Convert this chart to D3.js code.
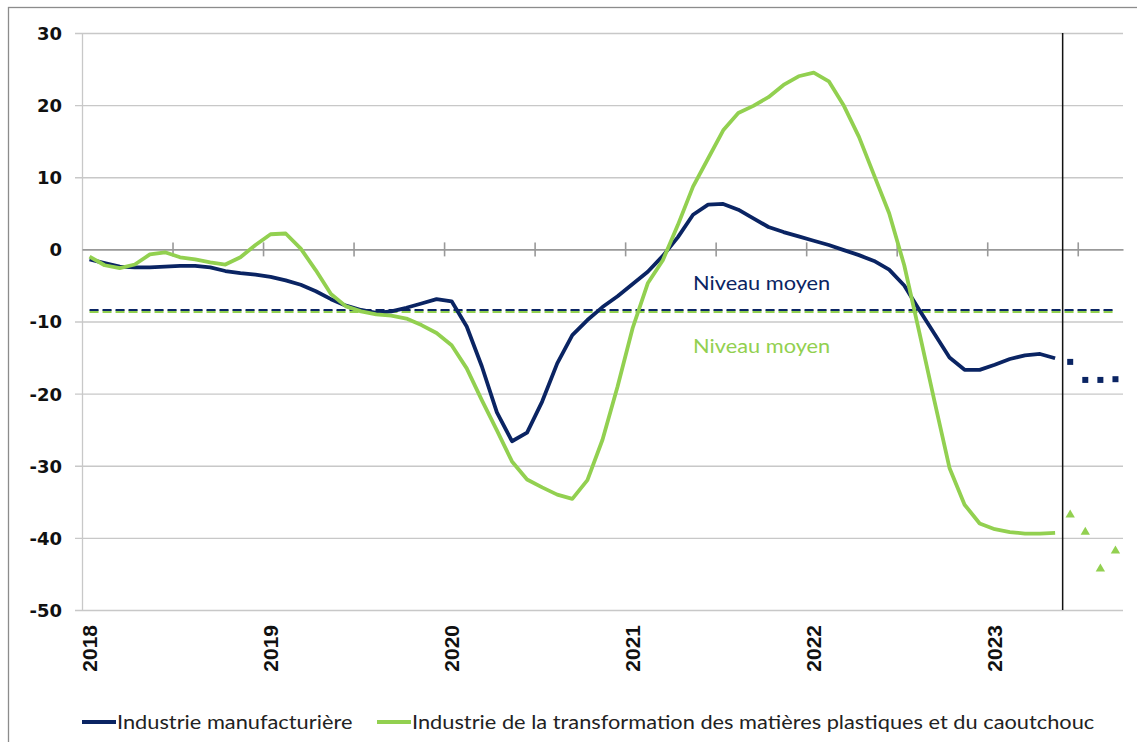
<!DOCTYPE html>
<html>
<head>
<meta charset="utf-8">
<script src="https://cdn.jsdelivr.net/npm/d3@7"></script>
<style>
  body { margin: 0; background: #fff; }
  svg { display: block; }
</style>
</head>
<body>
<svg id="chart" width="1137" height="742"></svg>
<script>
// categories: one per month, Jan 2018 -> Sep 2023
const years = [ 2018, 2019, 2020, 2021, 2022, 2023 ];
const lastMonth2023 = 9;
const months = [];
years.forEach( y => {
  const n = y === 2023 ? lastMonth2023 : 12;
  for ( let m = 1; m <= n; m++ ) months.push( `${y}-${String( m ).padStart( 2, "0" )}` );
} );

// observed series, Jan 2018 -> May 2023
const manufacturiere = [
  -1.4, -1.9, -2.4, -2.5, -2.5, -2.4, -2.3, -2.3, -2.5, -3.0, -3.3, -3.5,
  -3.8, -4.3, -4.9, -5.8, -6.9, -7.8, -8.4, -8.8, -8.6, -8.1, -7.5, -6.9,
  -7.2, -10.7, -16.2, -22.6, -26.6, -25.4, -21.1, -15.8, -11.9, -9.8, -8.0, -6.5,
  -4.8, -3.1, -0.9, 1.7, 4.8, 6.2, 6.3, 5.5, 4.3, 3.1, 2.4, 1.8,
  1.2, 0.6, -0.1, -0.8, -1.6, -2.8, -5.0, -8.4, -11.7, -15.0, -16.7, -16.7,
  -16.0, -15.2, -14.7, -14.5, -15.1,
];
const plastiques = [
  -1.0, -2.2, -2.6, -2.1, -0.7, -0.4, -1.1, -1.4, -1.8, -2.1, -1.1, 0.6,
  2.1, 2.2, 0.1, -2.9, -6.2, -7.9, -8.6, -9.0, -9.2, -9.6, -10.5, -11.6,
  -13.3, -16.5, -20.9, -25.1, -29.4, -31.9, -33.0, -34.0, -34.6, -32.0, -26.4, -19.0,
  -10.9, -4.7, -1.5, 3.4, 8.7, 12.6, 16.5, 18.9, 19.9, 21.1, 22.8, 24.0,
  24.5, 23.3, 19.9, 15.6, 10.3, 5.0, -2.2, -11.5, -21.0, -30.3, -35.4, -38.0,
  -38.8, -39.2, -39.4, -39.4, -39.3,
];

// forecasts, Jun 2023 -> Sep 2023
const manufPrevision = [ -15.6, -18.1, -18.1, -18.0 ];
const plastPrevision = [ -36.8, -39.2, -44.3, -41.8 ];

// long-run averages
const moyenneManuf = -8.4;
const moyennePlast = -8.6;

const yTicks = [ 30, 20, 10, 0, -10, -20, -30, -40, -50 ];
const seriesNames = [ "Industrie manufacturière", "Industrie de la transformation des matières plastiques et du caoutchouc" ];

const BLUE = "#0a2463";
const GREEN = "#92d050";
const TEXT_STRETCH = 1.09; // the source text is drawn a little wider than Lato

const svg = d3.select( "#chart" );
const MARGINS = { top: 33, right: 14, bottom: 132, left: 82 };
const WIDTH = 1137;
const HEIGHT = 742;

const x = d3.scaleBand()
  .domain( months )
  .range( [ MARGINS.left, WIDTH - MARGINS.right ] )
  .padding( 0 );
const bw = x.bandwidth();
const cx = m => x( m ) + bw / 2;

const xIdx = d3.scaleLinear()
  .domain( [ 0, months.length ] )
  .range( [ MARGINS.left, WIDTH - MARGINS.right ] );

const y = d3.scaleLinear()
  .domain( [ -50, 30 ] )
  .range( [ HEIGHT - MARGINS.bottom, MARGINS.top ] );

// outer frame
svg.append( "rect" )
  .attr( "x", 8.5 ).attr( "y", 7.5 )
  .attr( "width", 1200 ).attr( "height", 800 )
  .attr( "fill", "none" )
  .attr( "stroke", "#8c8c8c" )
  .attr( "stroke-width", 1.3 );

// y axis + grid
const yAxis = d3.axisLeft( y )
  .tickValues( yTicks )
  .tickSizeOuter( 0 )
  .tickFormat( d => String( d ) );

const yg = svg.append( "g" )
  .attr( "transform", `translate(${MARGINS.left},0)` )
  .call( yAxis );
yg.select( ".domain" ).attr( "stroke", "#c8c8c8" ).attr( "stroke-width", 1.3 );
yg.selectAll( ".tick line" )
  .attr( "x1", -7 )
  .attr( "x2", WIDTH - MARGINS.right - MARGINS.left )
  .attr( "stroke", "#c8c8c8" )
  .attr( "stroke-width", 1.3 );
yg.selectAll( ".tick text" )
  .attr( "x", -20 )
  .attr( "dy", "0.36em" )
  .style( "font-family", "'DejaVu Sans', sans-serif" )
  .style( "font-weight", "bold" )
  .style( "font-size", "18px" )
  .attr( "fill", "#111" );
yg.selectAll( ".tick" ).filter( d => d === 0 ).select( "line" ).attr( "stroke", "none" );

// category axis on the zero line, tick marks every six months
const sixMonths = d3.range( 6, months.length, 6 );
const xAxis = d3.axisBottom( xIdx )
  .tickValues( sixMonths )
  .tickSize( 7 )
  .tickSizeOuter( 0 )
  .tickFormat( "" );
const xg = svg.append( "g" )
  .attr( "transform", `translate(0,${y( 0 )})` )
  .call( xAxis );
xg.select( ".domain" ).attr( "stroke", "#999" ).attr( "stroke-width", 1.6 );
xg.selectAll( ".tick line" ).attr( "y1", -7 ).attr( "stroke", "#999" ).attr( "stroke-width", 1.6 );

// year labels under the plot
const januaries = months.filter( m => m.endsWith( "-01" ) );
const labelAxis = d3.axisBottom( x )
  .tickValues( januaries )
  .tickSize( 0 )
  .tickFormat( m => m.slice( 0, 4 ) );
const lg = svg.append( "g" )
  .attr( "transform", `translate(0,${y( -50 )})` )
  .call( labelAxis );
lg.select( ".domain" ).remove();
lg.selectAll( ".tick text" )
  .attr( "transform", "translate(0,15) rotate(-90)" )
  .attr( "x", 0 ).attr( "y", 0 )
  .attr( "dy", "0.36em" )
  .attr( "text-anchor", "end" )
  .style( "font-family", "'Liberation Sans', Arial, sans-serif" )
  .style( "font-weight", "bold" )
  .style( "font-size", "21px" )
  .attr( "fill", "#111" );

// mean levels
const meanLine = v => d3.line()( [ [ cx( months[0] ), y( v ) ], [ cx( months[months.length - 1] ), y( v ) ] ] );
svg.append( "path" )
  .attr( "d", meanLine( moyennePlast ) )
  .attr( "stroke", GREEN )
  .attr( "stroke-width", 3 )
  .attr( "stroke-dasharray", "9,4" )
  .attr( "fill", "none" );
svg.append( "path" )
  .attr( "d", meanLine( moyenneManuf ) )
  .attr( "stroke", BLUE )
  .attr( "stroke-width", 2 )
  .attr( "stroke-dasharray", "9,4" )
  .attr( "fill", "none" );

// series lines
const lineFunc = d3.line()
  .x( ( d, i ) => cx( months[i] ) )
  .y( d => y( d ) );

svg.append( "path" )
  .attr( "d", lineFunc( manufacturiere ) )
  .attr( "stroke", BLUE )
  .attr( "stroke-width", 3.8 )
  .attr( "stroke-linejoin", "round" )
  .attr( "fill", "none" );

svg.append( "path" )
  .attr( "d", lineFunc( plastiques ) )
  .attr( "stroke", GREEN )
  .attr( "stroke-width", 3.8 )
  .attr( "stroke-linejoin", "round" )
  .attr( "fill", "none" );

// forecast markers
const firstForecast = manufacturiere.length;
svg.selectAll( "rect.prev" )
  .data( manufPrevision )
  .enter()
  .append( "rect" )
  .attr( "class", "prev" )
  .attr( "x", ( d, i ) => cx( months[firstForecast + i] ) - 3 )
  .attr( "y", d => y( d ) - 3 )
  .attr( "width", 6 )
  .attr( "height", 6 )
  .attr( "fill", BLUE );

const tri = d3.symbol().type( d3.symbolTriangle ).size( 38 );
svg.selectAll( "path.prev" )
  .data( plastPrevision )
  .enter()
  .append( "path" )
  .attr( "class", "prev" )
  .attr( "d", tri )
  .attr( "transform", ( d, i ) => `translate(${cx( months[firstForecast + i] )},${y( d )})` )
  .attr( "fill", GREEN );

// separator between observed and forecast
svg.append( "line" )
  .attr( "x1", xIdx( firstForecast ) ).attr( "x2", xIdx( firstForecast ) )
  .attr( "y1", y( 30 ) ).attr( "y2", y( -50 ) )
  .attr( "stroke", "#111" )
  .attr( "stroke-width", 1.5 );

// annotations
const note = ( tx, ty, color ) => svg.append( "text" )
  .attr( "transform", `translate(${tx},${ty}) scale(${TEXT_STRETCH},1)` )
  .text( "Niveau moyen" )
  .style( "font-family", "Lato, sans-serif" )
  .style( "font-size", "20px" )
  .attr( "fill", color );
note( cx( months[40] ), y( moyenneManuf ) - 20, BLUE );
note( cx( months[40] ), y( moyennePlast ) + 42, GREEN );

// legend
const legendItems = [ { name: seriesNames[0], color: BLUE, x0: 82 }, { name: seriesNames[1], color: GREEN, x0: 377 } ];
const legend = svg.append( "g" ).attr( "transform", "translate(0,722)" );
legendItems.forEach( item => {
  legend.append( "line" )
    .attr( "x1", item.x0 ).attr( "x2", item.x0 + 34 )
    .attr( "stroke", item.color )
    .attr( "stroke-width", 4 );
  legend.append( "text" )
    .attr( "transform", `translate(${item.x0 + 35},0) scale(${TEXT_STRETCH},1)` )
    .attr( "dy", "0.36em" )
    .text( item.name )
    .style( "font-family", "Lato, sans-serif" )
    .style( "font-size", "20px" )
    .attr( "fill", "#222" );
} );
</script>
</body>
</html>
